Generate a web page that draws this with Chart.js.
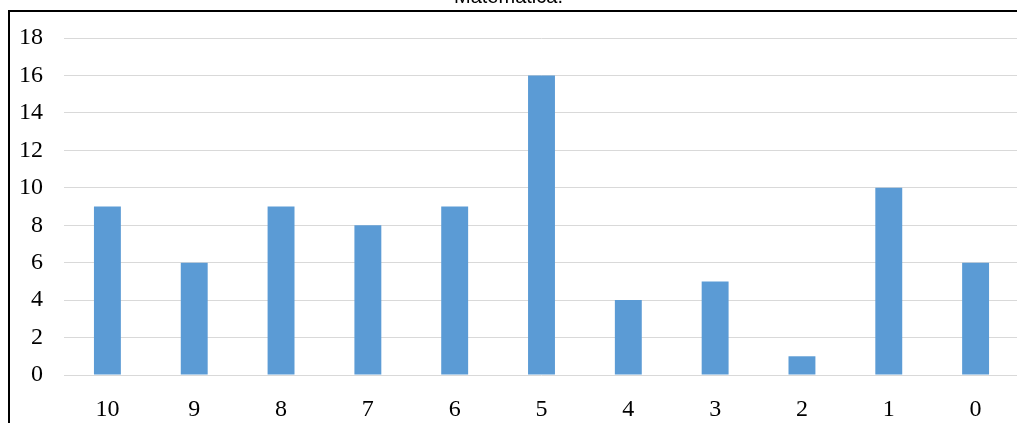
<!DOCTYPE html>
<html>
<head>
<meta charset="utf-8">
<script src="https://cdn.jsdelivr.net/npm/chart.js@4"></script>
<style>
  html, body { margin: 0; padding: 0; background: #fff; overflow: hidden; width: 1017px; height: 423px; }
  #clip { position: absolute; left: 0; top: 0; width: 1017px; height: 423px; overflow: hidden; }
  #title { position: absolute; left: 0; width: 1017px; top: -16px; text-align: center; font-family: "Liberation Sans", Arial, sans-serif; font-size: 20px; color: #000; line-height: 24px; }
  #wrap { position: absolute; left: 0; top: 0; width: 1030px; height: 423px; }
</style>
</head>
<body>
<div id="clip">
<div id="wrap"><canvas id="c"></canvas></div>
<div id="title">Matemática.</div>
</div>
<script>
const categories = ["10", "9", "8", "7", "6", "5", "4", "3", "2", "1", "0"];
const values = [9, 6, 9, 8, 9, 16, 4, 5, 1, 10, 6];
const yTicks = [0, 2, 4, 6, 8, 10, 12, 14, 16, 18];

const framePlugin = {
  id: 'frame',
  beforeDraw(chart) {
    const ctx = chart.ctx;
    ctx.save();
    ctx.fillStyle = '#fff';
    ctx.fillRect(0, 0, chart.width, chart.height);
    ctx.fillStyle = '#000';
    ctx.fillRect(8, 10, chart.width - 8, 2);
    ctx.fillRect(8, 10, 2, chart.height - 10);
    ctx.restore();
  }
};

new Chart(document.getElementById('c'), {
  type: 'bar',
  data: {
    labels: categories,
    datasets: [{
      data: values,
      backgroundColor: '#5b9bd5',
      barPercentage: 0.31,
      categoryPercentage: 1.0
    }]
  },
  options: {
    responsive: true,
    maintainAspectRatio: false,
    animation: false,
    layout: { padding: { top: 38, right: 11, bottom: 0, left: 0 } },
    plugins: { legend: { display: false }, tooltip: { enabled: false } },
    scales: {
      x: {
        grid: { display: false, drawTicks: false },
        border: { display: false },
        ticks: { color: '#000', font: { family: 'Liberation Serif', size: 24 }, padding: 20 },
        afterFit: (s) => { s.height = 48; }
      },
      y: {
        min: 0, max: 18,
        afterBuildTicks: (s) => { s.ticks = yTicks.map(v => ({ value: v })); },
        grid: { color: '#d9d9d9', lineWidth: 1, drawTicks: false },
        border: { display: false },
        ticks: { color: '#000', font: { family: 'Liberation Serif', size: 24 }, padding: 21 },
        afterFit: (s) => { s.width = 64; }
      }
    }
  },
  plugins: [framePlugin]
});
</script>
</body>
</html>
